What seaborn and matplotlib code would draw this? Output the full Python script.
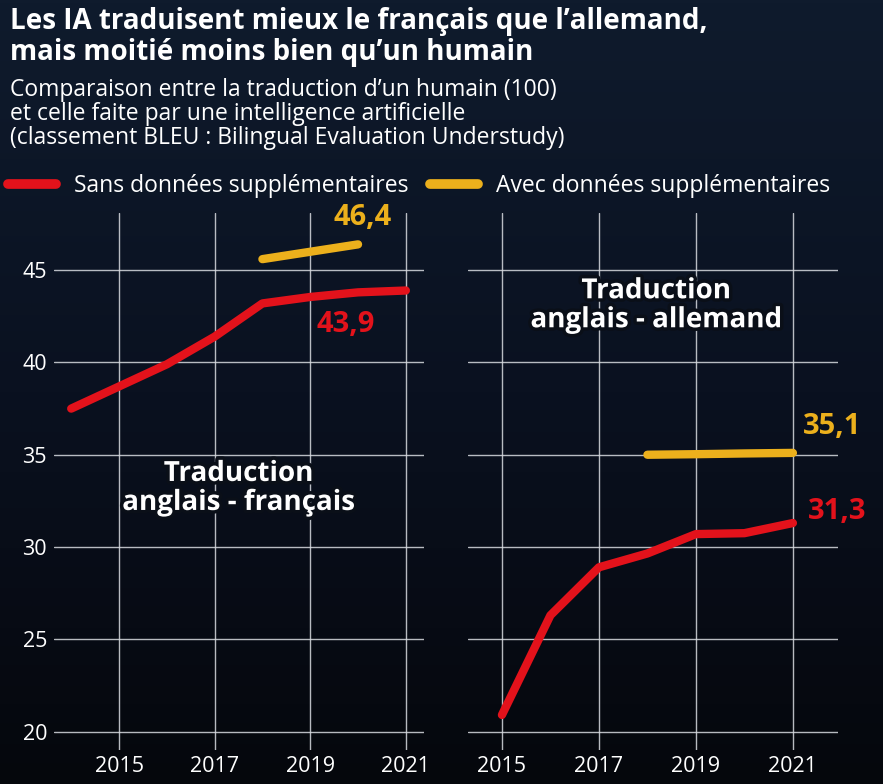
import numpy as np
import matplotlib.pyplot as plt
import matplotlib.patheffects as pe
from matplotlib.lines import Line2D
from matplotlib.colors import LinearSegmentedColormap
import pandas as pd
import seaborn as sns

# valeurs (score BLEU)
annees_fr = [2014, 2015, 2016, 2017, 2018, 2019, 2020, 2021]
sans_fr = [37.5, 38.7, 39.9, 41.4, 43.2, 43.55, 43.8, 43.9]
annees_fr_avec = [2018, 2019, 2020]
avec_fr = [45.6, 46.0, 46.4]

annees_de = [2015, 2016, 2017, 2018, 2019, 2020, 2021]
sans_de = [20.9, 26.3, 28.9, 29.65, 30.7, 30.75, 31.3]
annees_de_avec = [2018, 2019, 2020, 2021]
avec_de = [35.0, 35.03, 35.07, 35.1]

series = ['Sans données supplémentaires', 'Avec données supplémentaires']
y_ticks = [20, 25, 30, 35, 40, 45]
x_ticks = [2015, 2017, 2019, 2021]

ROUGE = '#e3121b'
JAUNE = '#ecb01c'
palette = {series[0]: ROUGE, series[1]: JAUNE}

df_fr = pd.concat([
    pd.DataFrame({'annee': annees_fr, 'score': sans_fr, 'serie': series[0]}),
    pd.DataFrame({'annee': annees_fr_avec, 'score': avec_fr, 'serie': series[1]}),
])
df_de = pd.concat([
    pd.DataFrame({'annee': annees_de, 'score': sans_de, 'serie': series[0]}),
    pd.DataFrame({'annee': annees_de_avec, 'score': avec_de, 'serie': series[1]}),
])

sns.set_style('dark')
plt.rcParams['font.family'] = ['Open Sans', 'DejaVu Sans']

fig = plt.figure(figsize=(8.83, 7.84), dpi=100)

# fond en dégradé
bg = fig.add_axes([0, 0, 1, 1], zorder=-10)
grad = np.linspace(0, 1, 256).reshape(-1, 1)
cmap = LinearSegmentedColormap.from_list('bg', ['#0f1b2d', '#0a1120', '#05070c'])
bg.imshow(grad, aspect='auto', cmap=cmap, extent=[0, 1, 0, 1])
bg.set_axis_off()

ax1 = fig.add_axes([54 / 883, 34 / 784, 370 / 883, 537 / 784])
ax2 = fig.add_axes([468 / 883, 34 / 784, 370 / 883, 537 / 784])

for ax, d, xl in [(ax1, df_fr, (2013.64, 2021.38)), (ax2, df_de, (2014.30, 2021.93))]:
    ax.patch.set_alpha(0)
    sns.lineplot(data=d, x='annee', y='score', hue='serie', palette=palette,
                 linewidth=6, solid_capstyle='round', legend=False, ax=ax, zorder=3)
    ax.set_xlim(*xl)
    ax.set_ylim(19, 48.1)
    ax.set_xticks(x_ticks)
    ax.set_yticks(y_ticks)
    ax.grid(True, color='#d8dbe0', linewidth=1, alpha=0.85)
    ax.set_axisbelow(True)
    for s in ax.spines.values():
        s.set_visible(False)
    ax.tick_params(length=0, colors='white', labelsize=15.5, pad=4)
    ax.set_xlabel('')
    ax.set_ylabel('')

ax2.set_yticklabels([])
ax1.tick_params(axis='y', pad=5)

# valeurs finales
bold = dict(fontweight='bold', fontsize=21)
ax1.text(annees_fr_avec[-1] + 0.1, avec_fr[-1] + 1.45, '46,4', color=JAUNE, ha='center', va='center', **bold)
ax1.text(annees_fr[-2] - 0.25, sans_fr[-1] - 1.85, '43,9', color=ROUGE, ha='center', va='center', **bold)
ax2.text(annees_de_avec[-1] + 0.2, avec_de[-1] + 1.45, '35,1', color=JAUNE, ha='left', va='center', **bold)
ax2.text(annees_de[-1] + 0.3, sans_de[-1] + 0.6, '31,3', color=ROUGE, ha='left', va='center', **bold)

halo = [pe.withStroke(linewidth=5, foreground='#0a0f18')]
ax1.text(2017.5, 33.2, 'Traduction\nanglais - français', color='white', fontweight='bold',
         fontsize=20, ha='center', va='center', linespacing=1.0, path_effects=halo, zorder=4)
ax2.text(2018.18, 43.1, 'Traduction\nanglais - allemand', color='white', fontweight='bold',
         fontsize=20, ha='center', va='center', linespacing=1.0, path_effects=halo, zorder=4)

# titres
fig.text(10 / 883, 1 - 7 / 784, "Les IA traduisent mieux le français que l’allemand,\nmais moitié moins bien qu’un humain",
         color='white', fontweight='bold', fontsize=20, ha='left', va='top', linespacing=1.08)
fig.text(10 / 883, 1 - 78 / 784, "Comparaison entre la traduction d’un humain (100)\net celle faite par une intelligence artificielle\n(classement BLEU : Bilingual Evaluation Understudy)",
         color='white', fontsize=16.5, ha='left', va='top', linespacing=1.0)

handles = [Line2D([], [], color=ROUGE, linewidth=7, solid_capstyle='round'),
           Line2D([], [], color=JAUNE, linewidth=7, solid_capstyle='round')]
fig.legend(handles, series, loc='center left', bbox_to_anchor=(8 / 883, 1 - 186 / 784), ncol=2,
           frameon=False, fontsize=16.5, labelcolor='white', handlelength=2.1, handletextpad=0.8,
           columnspacing=0.9, borderpad=0, borderaxespad=0)

fig.savefig('out.png', dpi=100)
